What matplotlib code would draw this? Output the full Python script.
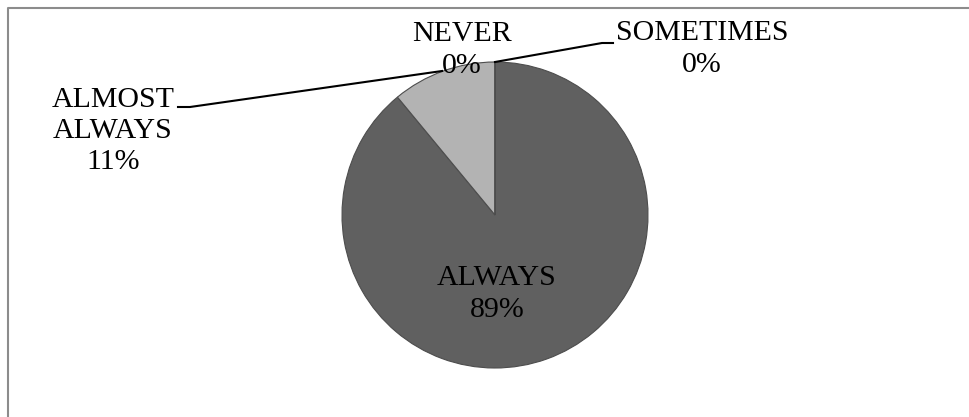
import matplotlib
matplotlib.use("Agg")
import matplotlib.pyplot as plt

# data
categories = ["ALWAYS", "ALMOST\nALWAYS", "NEVER", "SOMETIMES"]
shares = [89, 11, 0, 0]
colors = ["#606060", "#b3b3b3", "#ffffff", "#ffffff"]

plt.rcParams['font.family'] = ['Liberation Serif', 'DejaVu Serif']

W, H = 969, 417
fig = plt.figure(figsize=(W / 100, H / 100), dpi=100)
ax = fig.add_axes([0, 0, 1, 1])

# pie centre / radius in pixel units (y flipped, so turn angles the other way)
cx, cy, r = 495, 215, 153
ax.pie(shares, colors=colors, startangle=-90, counterclock=True,
       center=(cx, cy), radius=r, frame=True,
       wedgeprops=dict(edgecolor="#4d4d4d", linewidth=0.8))
ax.set_xlim(0, W)
ax.set_ylim(H, 0)
ax.set_aspect('equal')
ax.axis('off')

# frame (only top and left visible in the crop)
ax.plot([8, 8, W], [H, 7.5, 7.5], color="#8c8c8c", lw=1.5, clip_on=False)

# label positions (text block centres)
label_pos = {
    "ALWAYS": (497, 294),
    "ALMOST\nALWAYS": (113, 131),
    "NEVER": (462, 50),
    "SOMETIMES": (702, 49),
}
for cat, val in zip(categories, shares):
    x, y = label_pos[cat]
    ax.text(x, y, f"{cat}\n{val}%", ha='center', va='center',
            fontsize=21.5, linespacing=1.27, color='black', zorder=5)

# leader lines
ax.plot([178, 190, 442], [107, 107, 71], color='black', lw=1.5, zorder=4)
ax.plot([495, 602, 613], [62, 43, 43], color='black', lw=1.5, zorder=4)

fig.savefig("out.png", dpi=100)
